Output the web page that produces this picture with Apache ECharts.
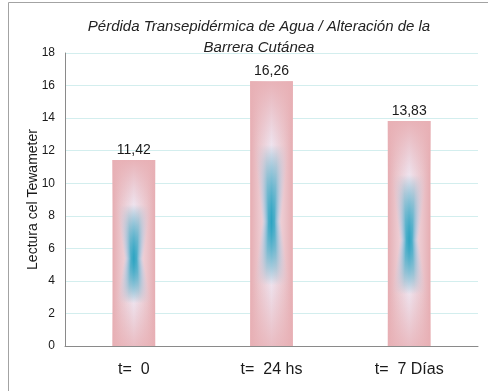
<!DOCTYPE html>
<html>
<head>
<meta charset="utf-8">
<script src="https://cdn.jsdelivr.net/npm/echarts@6/dist/echarts.min.js"></script>
<style>
  html, body { margin: 0; padding: 0; background: #fff; }
  #chart { width: 488px; height: 391px; }
</style>
</head>
<body>
<div id="chart"></div>
<script>
// Tewameter readings at each measurement time
const categories = ['t=  0', 't=  24 hs', 't=  7 Días'];
const readings = [11.42, 16.26, 13.83];
const yTicks = { min: 0, max: 18, step: 2 };

function fmt(v) {
  return v.toFixed(2).replace('.', ',');
}

// Each column: pink shell, pale lavender middle, and a soft teal core
function renderColumn(params, api) {
  const idx = api.value(0);
  const val = api.value(1);
  const top = api.coord([idx, val]);
  const base = api.coord([idx, 0]);
  const bw = api.size([1, 0])[0] * 0.31;
  const x = top[0] - bw / 2;
  const y = top[1];
  const h = base[1] - top[1];
  const children = [];

  children.push({
    type: 'rect',
    shape: { x: x, y: y, width: bw, height: h },
    style: {
      fill: new echarts.graphic.LinearGradient(0, 0, 1, 0, [
        { offset: 0, color: '#e6adb2' },
        { offset: 0.2, color: '#ebc6cc' },
        { offset: 0.5, color: '#eee3ee' },
        { offset: 0.8, color: '#ebc6cc' },
        { offset: 1, color: '#e6adb2' }
      ])
    }
  });
  children.push({
    type: 'rect',
    shape: { x: x, y: y, width: bw, height: h },
    style: {
      fill: new echarts.graphic.LinearGradient(0, 0, 0, 1, [
        { offset: 0, color: 'rgba(232,176,181,0.95)' },
        { offset: 0.24, color: 'rgba(232,176,181,0)' },
        { offset: 0.76, color: 'rgba(232,176,181,0)' },
        { offset: 1, color: 'rgba(232,176,181,0.75)' }
      ])
    }
  });

  // teal core, one pixel row at a time
  const c0 = 0.24, c1 = 0.77, mid = 0.53;
  const r0 = Math.round(y + h * c0);
  const r1 = Math.round(y + h * c1);
  for (let r = r0; r < r1; r++) {
    const f = (r + 0.5 - y) / h;
    const t = Math.min(1, f < mid ? (mid - f) / (mid - c0) : (f - mid) / (c1 - mid));
    const a = Math.max(0, 1 - Math.pow(t, 1.5));
    const hw = 0.15 + 0.13 * t;
    const s1 = Math.max(0, 0.5 - hw * 1.5);
    const s2 = 0.5 - hw;
    const s3 = 0.5 - hw * 0.45;
    children.push({
      type: 'rect',
      shape: { x: x, y: r, width: bw, height: 1 },
      style: {
        fill: new echarts.graphic.LinearGradient(0, 0, 1, 0, [
          { offset: s1, color: 'rgba(190,210,232,0)' },
          { offset: s2, color: 'rgba(150,195,222,' + (0.6 * a).toFixed(3) + ')' },
          { offset: s3, color: 'rgba(62,170,198,' + (0.92 * a).toFixed(3) + ')' },
          { offset: 0.5, color: 'rgba(45,164,194,' + a.toFixed(3) + ')' },
          { offset: 1 - s3, color: 'rgba(62,170,198,' + (0.92 * a).toFixed(3) + ')' },
          { offset: 1 - s2, color: 'rgba(150,195,222,' + (0.6 * a).toFixed(3) + ')' },
          { offset: 1 - s1, color: 'rgba(190,210,232,0)' }
        ])
      }
    });
  }

  children.push({
    type: 'text',
    style: {
      text: fmt(val),
      x: top[0],
      y: y - 3,
      align: 'center',
      verticalAlign: 'bottom',
      font: '14px "Liberation Sans", Arial, sans-serif',
      fill: '#1a1a1a'
    }
  });

  return { type: 'group', children: children };
}

const chart = echarts.init(document.getElementById('chart'), null, { renderer: 'canvas' });
chart.setOption({
  animation: false,
  backgroundColor: '#ffffff',
  title: {
    text: 'Pérdida Transepidérmica de Agua / Alteración de la\nBarrera Cutánea',
    left: 254,
    top: 11,
    textAlign: 'center',
    textStyle: {
      fontFamily: '"Liberation Sans", Arial, sans-serif',
      fontStyle: 'italic',
      fontWeight: 'normal',
      fontSize: 15,
      lineHeight: 21,
      color: '#222'
    }
  },
  graphic: [{
    type: 'rect',
    shape: { x: 8.5, y: 2.5, width: 520, height: 420 },
    style: { fill: 'none', stroke: '#a3a3a3', lineWidth: 1 },
    silent: true
  }],
  grid: { left: 65, right: 10, top: 53, bottom: 45 },
  xAxis: {
    type: 'category',
    data: categories,
    axisLine: { lineStyle: { color: '#8a8a8a' } },
    axisTick: { show: false },
    axisLabel: {
      margin: 16,
      fontSize: 16,
      fontFamily: '"Liberation Sans", Arial, sans-serif',
      color: '#1a1a1a'
    }
  },
  yAxis: {
    type: 'value',
    min: yTicks.min,
    max: yTicks.max,
    interval: yTicks.step,
    name: 'Lectura cel Tewameter',
    nameLocation: 'middle',
    nameGap: 25,
    nameMoveOverlap: false,
    nameTextStyle: {
      fontSize: 14,
      fontFamily: '"Liberation Sans", Arial, sans-serif',
      color: '#1a1a1a'
    },
    axisLine: { show: true, lineStyle: { color: '#8a8a8a' } },
    axisTick: { show: false },
    axisLabel: {
      margin: 10,
      fontSize: 12,
      fontFamily: '"Liberation Sans", Arial, sans-serif',
      color: '#1a1a1a'
    },
    splitLine: { lineStyle: { color: '#d3eeee' } }
  },
  series: [{
    type: 'custom',
    renderItem: renderColumn,
    encode: { x: 0, y: 1 },
    data: readings.map((v, i) => [i, v]),
    z: 3
  }]
});
</script>
</body>
</html>
